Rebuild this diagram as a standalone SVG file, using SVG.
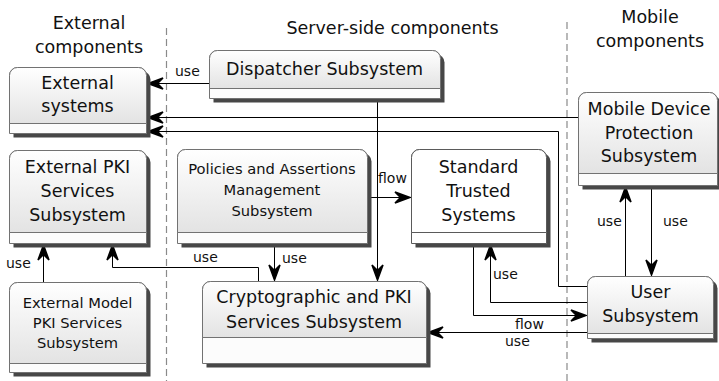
<svg xmlns="http://www.w3.org/2000/svg" width="719" height="381" viewBox="0 0 719 381">
  <defs>
    <linearGradient id="hdr" x1="0" y1="0" x2="0" y2="1">
      <stop offset="0" stop-color="#ffffff"/>
      <stop offset="1" stop-color="#e3e3e3"/>
    </linearGradient>
    <marker id="arr" viewBox="-18 -8 19 16" markerWidth="19" markerHeight="16" refX="0" refY="0" orient="auto" markerUnits="userSpaceOnUse">
      <path d="M-1,0 L-16,-5.5 L-10.5,0 L-16,5.5 Z" fill="#000" stroke="#000" stroke-width="1.5" stroke-linejoin="miter"/>
    </marker>
  </defs>
  <style>
    text { font-family: "DejaVu Sans", "Liberation Sans", sans-serif; fill: #111; }
    .h { font-size: 17.5px; text-anchor: middle; }
    .t { font-size: 17.5px; text-anchor: middle; }
    .s { font-size: 14.7px; text-anchor: middle; }
    .lbl { font-size: 14px; }
    .sh { fill: #474747; }
    .bd { fill: #fcfcfc; stroke: #727272; stroke-width: 1; }
    .nm { fill: url(#hdr); stroke: #727272; stroke-width: 1; }
    .plain { fill: #ffffff; stroke: #5a5a5a; stroke-width: 1; }
    .sep { stroke: #8a8a8a; stroke-width: 1.2; stroke-dasharray: 7 4; fill: none; }
    .edge { fill: none; stroke: #000; stroke-width: 1; marker-end: url(#arr); }
  </style>

  <rect width="719" height="381" fill="#ffffff"/>

  <!-- column separators and headings -->
  <g id="columns">
    <path class="sep" d="M166.5,28 V381"/>
    <path class="sep" d="M567,22 V381"/>
    <text class="h" x="89" y="29">External</text>
    <text class="h" x="89" y="53">components</text>
    <text class="h" x="392.5" y="34">Server-side components</text>
    <text class="h" x="650" y="23">Mobile</text>
    <text class="h" x="650" y="47">components</text>
  </g>

  <!-- connectors -->
  <g id="connectors">
    <path class="edge" d="M209,83.5 H147"/>
    <path class="edge" d="M578,117.5 H147"/>
    <path class="edge" d="M587,286.5 H558.5 V131.5 H147"/>
    <path class="edge" d="M377.5,98 V281"/>
    <path class="edge" d="M367,197.5 H411"/>
    <path class="edge" d="M274.5,243 V281"/>
    <path class="edge" d="M258.5,281 V267.5 H112.5 V244"/>
    <path class="edge" d="M43.5,282 V244"/>
    <path class="edge" d="M473.5,243 V315.5 H587"/>
    <path class="edge" d="M587,302.5 H490.5 V244"/>
    <path class="edge" d="M587,332.5 H427"/>
    <path class="edge" d="M625.5,276 V186"/>
    <path class="edge" d="M651.5,186 V276"/>

    <text class="lbl" x="175" y="76">use</text>
    <text class="lbl" x="378" y="183">flow</text>
    <text class="lbl" x="282" y="263">use</text>
    <text class="lbl" x="193" y="262">use</text>
    <text class="lbl" x="6" y="268">use</text>
    <text class="lbl" x="493" y="279">use</text>
    <text class="lbl" x="515" y="329">flow</text>
    <text class="lbl" x="505" y="346">use</text>
    <text class="lbl" x="597" y="226">use</text>
    <text class="lbl" x="663" y="226">use</text>
  </g>

  <!-- External systems -->
  <g id="external-systems">
    <path class="sh" transform="translate(4,4)" d="M9.5,133.5 V75.5 A8,8 0 0 1 17.5,67.5 H138.5 A8,8 0 0 1 146.5,75.5 V133.5 Z"/>
    <path class="bd" d="M9.5,133.5 V75.5 A8,8 0 0 1 17.5,67.5 H138.5 A8,8 0 0 1 146.5,75.5 V133.5 Z"/>
    <path class="nm" d="M9.5,123.5 V75.5 A8,8 0 0 1 17.5,67.5 H138.5 A8,8 0 0 1 146.5,75.5 V123.5 Z"/>
    <text class="t" x="77.5" y="89">External</text>
    <text class="t" x="77.5" y="112">systems</text>
  </g>

  <!-- Dispatcher Subsystem -->
  <g id="dispatcher">
    <path class="sh" transform="translate(4,4)" d="M209.5,98.5 V58.5 A8,8 0 0 1 217.5,50.5 H432.5 A8,8 0 0 1 440.5,58.5 V98.5 Z"/>
    <path class="bd" d="M209.5,98.5 V58.5 A8,8 0 0 1 217.5,50.5 H432.5 A8,8 0 0 1 440.5,58.5 V98.5 Z"/>
    <path class="nm" d="M209.5,88.5 V58.5 A8,8 0 0 1 217.5,50.5 H432.5 A8,8 0 0 1 440.5,58.5 V88.5 Z"/>
    <text class="t" x="324.5" y="75">Dispatcher Subsystem</text>
  </g>

  <!-- Mobile Device Protection Subsystem -->
  <g id="mobile-protection">
    <path class="sh" transform="translate(4,4)" d="M578.5,185.5 V100.5 A8,8 0 0 1 586.5,92.5 H709.5 A8,8 0 0 1 717.5,100.5 V185.5 Z"/>
    <path class="bd" d="M578.5,185.5 V100.5 A8,8 0 0 1 586.5,92.5 H709.5 A8,8 0 0 1 717.5,100.5 V185.5 Z"/>
    <path class="nm" d="M578.5,173.5 V100.5 A8,8 0 0 1 586.5,92.5 H709.5 A8,8 0 0 1 717.5,100.5 V173.5 Z"/>
    <text class="t" x="649" y="115">Mobile Device</text>
    <text class="t" x="649" y="139">Protection</text>
    <text class="t" x="649" y="162">Subsystem</text>
  </g>

  <!-- External PKI Services Subsystem -->
  <g id="external-pki">
    <path class="sh" transform="translate(4,4)" d="M9.5,243.5 V158.5 A8,8 0 0 1 17.5,150.5 H138.5 A8,8 0 0 1 146.5,158.5 V243.5 Z"/>
    <path class="bd" d="M9.5,243.5 V158.5 A8,8 0 0 1 17.5,150.5 H138.5 A8,8 0 0 1 146.5,158.5 V243.5 Z"/>
    <path class="nm" d="M9.5,232.5 V158.5 A8,8 0 0 1 17.5,150.5 H138.5 A8,8 0 0 1 146.5,158.5 V232.5 Z"/>
    <text class="t" x="77.5" y="173">External PKI</text>
    <text class="t" x="77.5" y="197">Services</text>
    <text class="t" x="77.5" y="221">Subsystem</text>
  </g>

  <!-- External Model PKI Services Subsystem -->
  <g id="external-model-pki">
    <path class="sh" transform="translate(4,4)" d="M9.5,372.5 V290.5 A8,8 0 0 1 17.5,282.5 H138.5 A8,8 0 0 1 146.5,290.5 V372.5 Z"/>
    <path class="bd" d="M9.5,372.5 V290.5 A8,8 0 0 1 17.5,282.5 H138.5 A8,8 0 0 1 146.5,290.5 V372.5 Z"/>
    <path class="nm" d="M9.5,363.5 V290.5 A8,8 0 0 1 17.5,282.5 H138.5 A8,8 0 0 1 146.5,290.5 V363.5 Z"/>
    <text class="s" x="77.5" y="308">External Model</text>
    <text class="s" x="77.5" y="328">PKI Services</text>
    <text class="s" x="77.5" y="348">Subsystem</text>
  </g>

  <!-- Policies and Assertions Management Subsystem -->
  <g id="policies">
    <path class="sh" transform="translate(4,4)" d="M177.5,243.5 V157.5 A8,8 0 0 1 185.5,149.5 H359.5 A8,8 0 0 1 367.5,157.5 V243.5 Z"/>
    <path class="bd" d="M177.5,243.5 V157.5 A8,8 0 0 1 185.5,149.5 H359.5 A8,8 0 0 1 367.5,157.5 V243.5 Z"/>
    <path class="nm" d="M177.5,232.5 V157.5 A8,8 0 0 1 185.5,149.5 H359.5 A8,8 0 0 1 367.5,157.5 V232.5 Z"/>
    <text class="s" x="272" y="174">Policies and Assertions</text>
    <text class="s" x="272" y="195">Management</text>
    <text class="s" x="272" y="216">Subsystem</text>
  </g>

  <!-- Standard Trusted Systems -->
  <g id="standard-trusted">
    <path class="sh" transform="translate(4,4)" d="M411.5,243.5 V157.5 A8,8 0 0 1 419.5,149.5 H538.5 A8,8 0 0 1 546.5,157.5 V243.5 Z"/>
    <path class="plain" d="M411.5,243.5 V157.5 A8,8 0 0 1 419.5,149.5 H538.5 A8,8 0 0 1 546.5,157.5 V243.5 Z"/>
    <path class="plain" d="M411.5,232.5 V157.5 A8,8 0 0 1 419.5,149.5 H538.5 A8,8 0 0 1 546.5,157.5 V232.5 Z"/>
    <text class="t" x="478.5" y="173">Standard</text>
    <text class="t" x="478.5" y="197">Trusted</text>
    <text class="t" x="478.5" y="221">Systems</text>
  </g>

  <!-- Cryptographic and PKI Services Subsystem -->
  <g id="crypto-pki">
    <path class="sh" transform="translate(4,4)" d="M202.5,363.5 V289.5 A8,8 0 0 1 210.5,281.5 H418.5 A8,8 0 0 1 426.5,289.5 V363.5 Z"/>
    <path class="bd" d="M202.5,363.5 V289.5 A8,8 0 0 1 210.5,281.5 H418.5 A8,8 0 0 1 426.5,289.5 V363.5 Z"/>
    <path class="nm" d="M202.5,337.5 V289.5 A8,8 0 0 1 210.5,281.5 H418.5 A8,8 0 0 1 426.5,289.5 V337.5 Z"/>
    <text class="t" x="314" y="303">Cryptographic and PKI</text>
    <text class="t" x="314" y="328">Services Subsystem</text>
  </g>

  <!-- User Subsystem -->
  <g id="user">
    <path class="sh" transform="translate(4,4)" d="M587.5,338.5 V284.5 A8,8 0 0 1 595.5,276.5 H705.5 A8,8 0 0 1 713.5,284.5 V338.5 Z"/>
    <path class="bd" d="M587.5,338.5 V284.5 A8,8 0 0 1 595.5,276.5 H705.5 A8,8 0 0 1 713.5,284.5 V338.5 Z"/>
    <path class="nm" d="M587.5,333.5 V284.5 A8,8 0 0 1 595.5,276.5 H705.5 A8,8 0 0 1 713.5,284.5 V333.5 Z"/>
    <text class="t" x="650.5" y="298">User</text>
    <text class="t" x="650.5" y="322">Subsystem</text>
  </g>
</svg>
